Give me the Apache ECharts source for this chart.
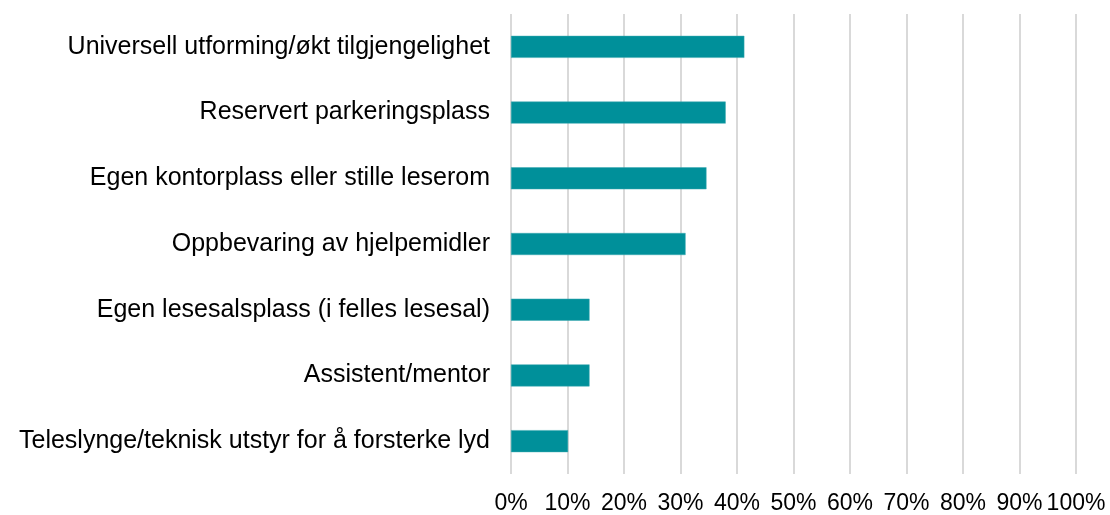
<!DOCTYPE html>
<html>
<head>
<meta charset="utf-8">
<script src="https://cdn.jsdelivr.net/npm/echarts@6/dist/echarts.min.js"></script>
<style>
  html, body { margin: 0; padding: 0; background: #fff; }
  #barChart { width: 1110px; height: 515px; }
</style>
</head>
<body>
<div id="barChart"></div>
<script>
// categories listed top to bottom
var categories = [
  'Universell utforming/økt tilgjengelighet',
  'Reservert parkeringsplass',
  'Egen kontorplass eller stille leserom',
  'Oppbevaring av hjelpemidler',
  'Egen lesesalsplass (i felles lesesal)',
  'Assistent/mentor',
  'Teleslynge/teknisk utstyr for å forsterke lyd'
];
var values = [41.3, 38.0, 34.6, 30.9, 13.9, 13.9, 10.1];
var tickStep = 10;
var tickMax = 100;

var barDom = document.getElementById('barChart');
var barChart = echarts.init(barDom);

var barOption = {
  animation: false,
  grid: { top: 14, bottom: 41, left: 511, right: 34, containLabel: false },
  xAxis: {
    type: 'value',
    min: 0,
    max: tickMax,
    interval: tickStep,
    axisLine: { show: false },
    axisTick: { show: false },
    axisLabel: {
      formatter: '{value}%',
      color: '#000',
      fontFamily: 'Liberation Sans',
      fontSize: 23,
      margin: 18
    },
    splitLine: { show: true, lineStyle: { color: '#d9d9d9', width: 2 } }
  },
  yAxis: {
    type: 'category',
    inverse: true,
    data: categories,
    axisLine: { show: false },
    axisTick: { show: false },
    axisLabel: {
      color: '#000',
      fontFamily: 'Liberation Sans',
      fontSize: 25,
      margin: 21
    }
  },
  series: [
    {
      type: 'bar',
      data: values,
      barWidth: 22,
      itemStyle: { color: '#00909A', borderColor: '#3aa9b0', borderWidth: 0.5 }
    }
  ]
};

barChart.setOption(barOption);

window.addEventListener('resize', function () {
  barChart.resize();
});
</script>
</body>
</html>
